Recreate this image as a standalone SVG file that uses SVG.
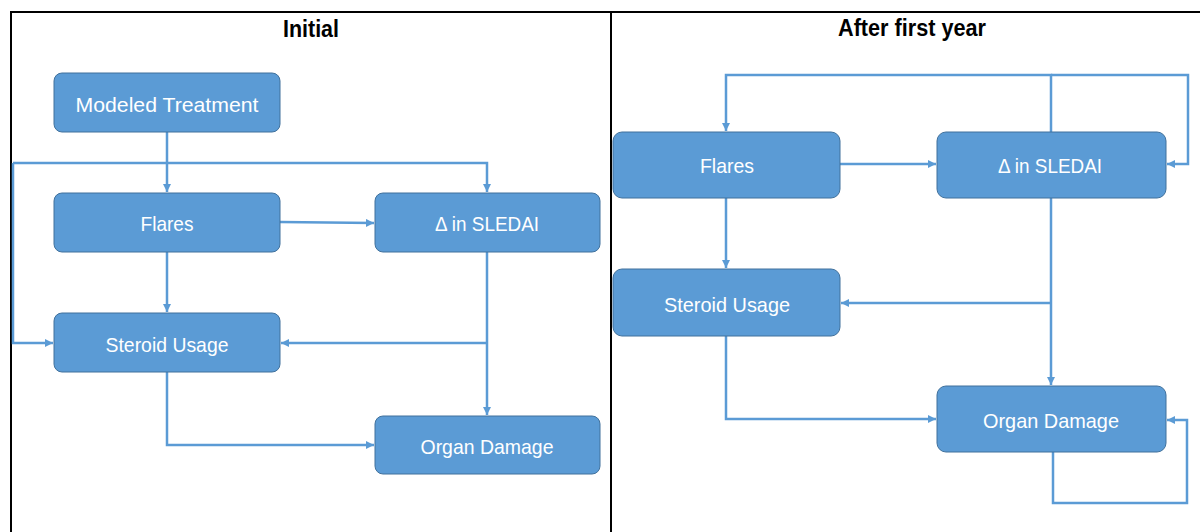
<svg xmlns="http://www.w3.org/2000/svg" width="1200" height="532" viewBox="0 0 1200 532">
<defs>
<marker id="ah" viewBox="0 0 10 10" refX="10" refY="5" markerWidth="8" markerHeight="8" markerUnits="userSpaceOnUse" orient="auto">
<path d="M0,0 L10,5 L0,10 z" fill="#5B9BD5"/>
</marker>
<style>
.box{fill:#5B9BD5;stroke:#41719C;stroke-width:1}
.lbl{fill:#FFFFFF;font-family:"Liberation Sans",Arial,sans-serif;font-size:21px;text-anchor:middle}
.title{fill:#000000;font-family:"Liberation Sans",Arial,sans-serif;font-size:23px;font-weight:bold;text-anchor:middle}
.c{fill:none;stroke:#5B9BD5;stroke-width:2.5}
.a{marker-end:url(#ah)}
.frame{stroke:#000000;stroke-width:2;fill:none}
</style>
</defs>
<rect width="1200" height="532" fill="#FFFFFF"/>
<g id="frame">
<path class="frame" d="M11,532 V12 H1200 M611,12 V532"/>
</g>
<g id="titles">
<text class="title" x="311" y="37" textLength="56" lengthAdjust="spacingAndGlyphs">Initial</text>
<text class="title" x="912" y="36" textLength="148" lengthAdjust="spacingAndGlyphs">After first year</text>
</g>
<g id="connectors">
<path class="c a" d="M167,132 V192"/>
<path class="c a" d="M13,163 H487 V192"/>
<path class="c a" d="M13,163 V343 H53"/>
<path class="c a" d="M280,222 L374,223"/>
<path class="c a" d="M167,252 V312"/>
<path class="c a" d="M487,252 V415"/>
<path class="c a" d="M487,343 H281"/>
<path class="c a" d="M167,372 V445 H374"/>
<path class="c a" d="M1051,132 V75 H726 V131"/>
<path class="c a" d="M1051,75 H1188 V164 H1167"/>
<path class="c a" d="M840,164 H936"/>
<path class="c a" d="M726,198 V268"/>
<path class="c a" d="M1051,198 V385"/>
<path class="c a" d="M1051,303 H841"/>
<path class="c a" d="M726,336 V419 H936"/>
<path class="c a" d="M1053,452 V503 H1187 V420 H1167"/>
</g>
<g id="l-treatment">
<rect class="box" x="54" y="73" width="226" height="59" rx="8"/>
<text class="lbl" x="167" y="111.5" textLength="183" lengthAdjust="spacingAndGlyphs">Modeled Treatment</text>
</g>
<g id="l-flares">
<rect class="box" x="54" y="193" width="226" height="59" rx="8"/>
<text class="lbl" x="167" y="231" textLength="53" lengthAdjust="spacingAndGlyphs">Flares</text>
</g>
<g id="l-sledai">
<rect class="box" x="375" y="193" width="225" height="59" rx="8"/>
<text class="lbl" x="487" y="231" textLength="104" lengthAdjust="spacingAndGlyphs">Δ in SLEDAI</text>
</g>
<g id="l-steroid">
<rect class="box" x="54" y="313" width="226" height="59" rx="8"/>
<text class="lbl" x="167" y="351.5" textLength="123" lengthAdjust="spacingAndGlyphs">Steroid Usage</text>
</g>
<g id="l-organ">
<rect class="box" x="375" y="416" width="225" height="58" rx="8"/>
<text class="lbl" x="487" y="454" textLength="133" lengthAdjust="spacingAndGlyphs">Organ Damage</text>
</g>
<g id="r-flares">
<rect class="box" x="613" y="132" width="227" height="66" rx="9"/>
<text class="lbl" x="727" y="173" textLength="54" lengthAdjust="spacingAndGlyphs">Flares</text>
</g>
<g id="r-sledai">
<rect class="box" x="937" y="132" width="229" height="66" rx="9"/>
<text class="lbl" x="1050" y="173" textLength="104" lengthAdjust="spacingAndGlyphs">Δ in SLEDAI</text>
</g>
<g id="r-steroid">
<rect class="box" x="613" y="269" width="227" height="67" rx="9"/>
<text class="lbl" x="727" y="311.5" textLength="126" lengthAdjust="spacingAndGlyphs">Steroid Usage</text>
</g>
<g id="r-organ">
<rect class="box" x="937" y="386" width="229" height="66" rx="9"/>
<text class="lbl" x="1051" y="428" textLength="136" lengthAdjust="spacingAndGlyphs">Organ Damage</text>
</g>
</svg>
